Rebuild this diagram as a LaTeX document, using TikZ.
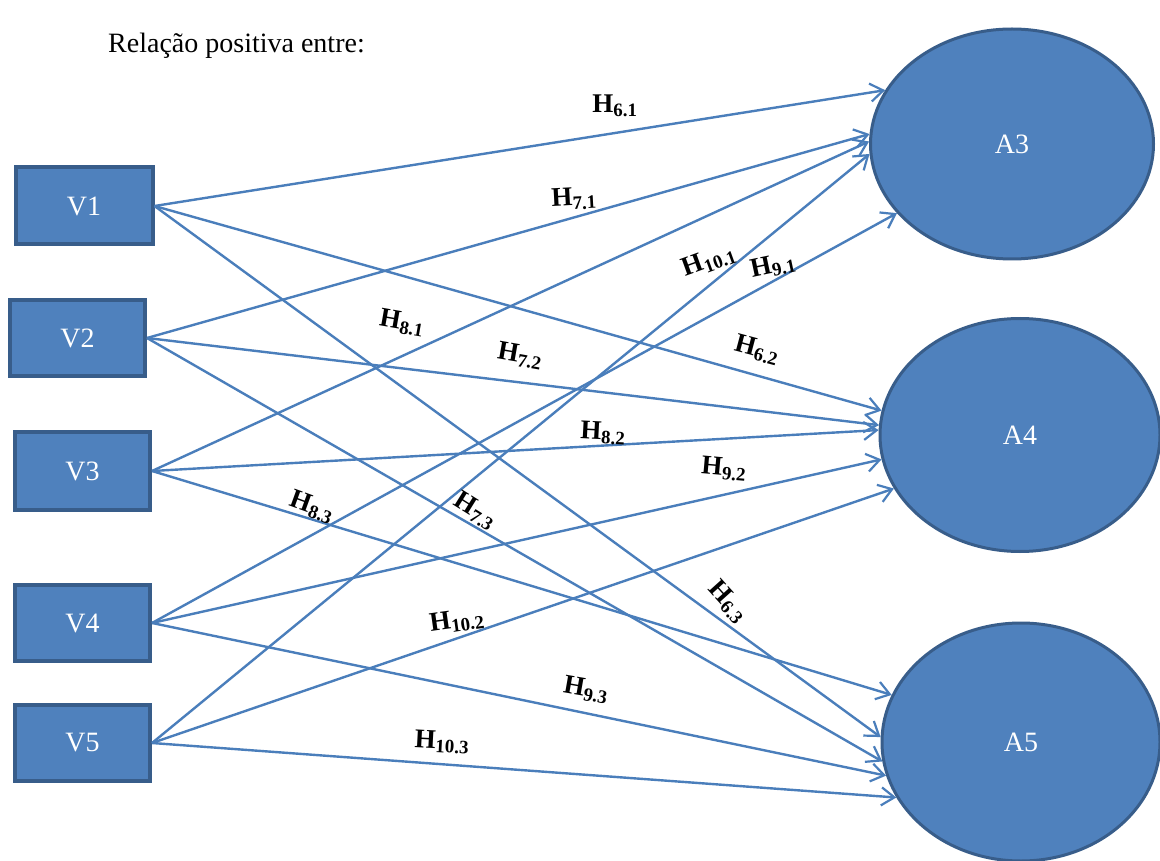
\documentclass[tikz,border=0pt]{standalone}
\usepackage{fontspec}
\setmainfont{Liberation Serif}
\usetikzlibrary{shapes.geometric,arrows.meta}
\definecolor{boxfill}{HTML}{4F81BD}
\definecolor{boxline}{HTML}{385D8A}
\definecolor{conn}{HTML}{4A7EBB}
\tikzset{
  vbox/.style={draw=boxline, line width=4pt, fill=boxfill, minimum width=137pt, minimum height=77pt, inner sep=0pt, text=white, font=\fontsize{28}{28}\selectfont},
  aell/.style={ellipse, draw=boxline, line width=3pt, fill=boxfill, inner sep=0pt, text=white, font=\fontsize{28}{28}\selectfont},
  hyp/.style={inner sep=0pt, font=\fontsize{27}{27}\selectfont\bfseries},
  conn/.style={draw=conn, line width=2.4pt, -{Straight Barb[length=13pt,width=18pt,line width=2.2pt]}}
}
\begin{document}
\begin{tikzpicture}[x=1pt,y=-1pt]
\useasboundingbox[fill=white] (0,0) rectangle (1160,861);
\node[anchor=base west, inner sep=0pt, font=\fontsize{28}{28}\selectfont] (title) at (108,53) {Relação positiva entre:};
% left boxes
\node[vbox] (V1) at (84,206) {V1};
\node[vbox, minimum width=135pt, minimum height=76pt] (V2) at (77.5,338) {V2};
\node[vbox, minimum width=135pt, minimum height=78pt] (V3) at (82.5,471) {V3};
\node[vbox, minimum width=135pt, minimum height=76pt] (V4) at (82.5,623) {V4};
\node[vbox, minimum width=135pt, minimum height=76pt] (V5) at (82.5,743) {V5};
% right ellipses
\node[aell, minimum width=283pt, minimum height=230pt] (A3) at (1012,144) {A3};
\node[aell, minimum width=280pt, minimum height=233pt] (A4) at (1020,435) {A4};
\node[aell, minimum width=278pt, minimum height=238pt] (A5) at (1021,742) {A5};
% connectors
\draw[conn] (V1.east) -- (A3.157.5);
\draw[conn] (V1.east) -- (A4.170);
\draw[conn] (V1.east) -- (A5.178);
\draw[conn] (V2.east) -- (A3.176.5);
\draw[conn] (V2.east) -- (A4.176);
\draw[conn] (V2.east) -- (A5.188);
\draw[conn] (V3.east) -- (A3.179);
\draw[conn] (V3.east) -- (A4.178.5);
\draw[conn] (V3.east) -- (A5.160.5);
\draw[conn] (V4.east) -- (A3.211.5);
\draw[conn] (V4.east) -- (A4.190);
\draw[conn] (V4.east) -- (A5.194.5);
\draw[conn] (V5.east) -- (A3.184.5);
\draw[conn] (V5.east) -- (A4.203);
\draw[conn] (V5.east) -- (A5.204);
% labels
\node[hyp] (h61) at (615,106) {H\textsubscript{6.1}};
\node[hyp, rotate=3] (h71) at (574,199) {H\textsubscript{7.1}};
\node[hyp, rotate=20] (h101) at (709,261) {H\textsubscript{10.1}};
\node[hyp, rotate=12] (h91) at (773,266) {H\textsubscript{9.1}};
\node[hyp, rotate=-15] (h62) at (757,350) {H\textsubscript{6.2}};
\node[hyp, rotate=-10] (h81) at (402,323) {H\textsubscript{8.1}};
\node[hyp, rotate=-10] (h72) at (520,356) {H\textsubscript{7.2}};
\node[hyp, rotate=-3] (h82) at (603,433) {H\textsubscript{8.2}};
\node[hyp, rotate=-20] (h83) at (312,507) {H\textsubscript{8.3}};
\node[hyp, rotate=-32] (h73) at (475,511) {H\textsubscript{7.3}};
\node[hyp, rotate=-5] (h92) at (724,469) {H\textsubscript{9.2}};
\node[hyp, rotate=-48] (h63) at (728,602) {H\textsubscript{6.3}};
\node[hyp, rotate=8] (h102) at (457,621) {H\textsubscript{10.2}};
\node[hyp, rotate=-10] (h93) at (586,690) {H\textsubscript{9.3}};
\node[hyp, rotate=-3] (h103) at (442,742) {H\textsubscript{10.3}};
\end{tikzpicture}
\end{document}
